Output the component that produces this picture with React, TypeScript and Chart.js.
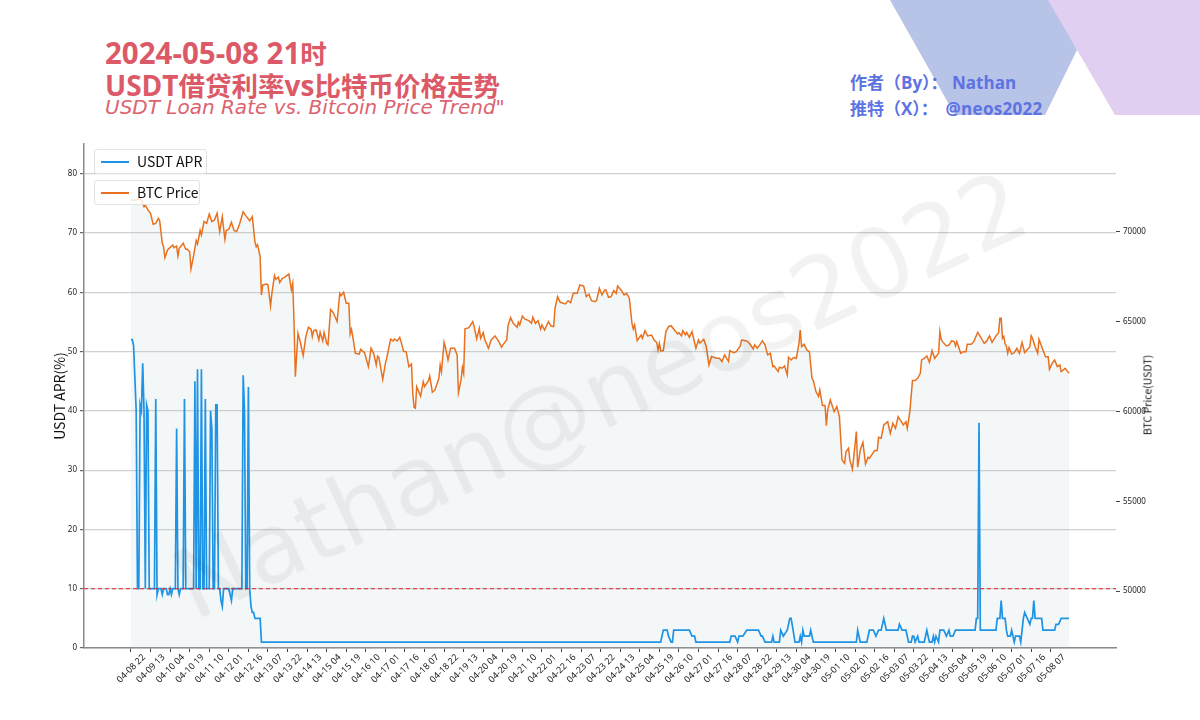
import { useEffect, useRef } from 'react'
import { Chart, registerables } from 'chart.js'

Chart.register(...registerables)

const tickLabels = [
  '04-08 22', '04-09 13', '04-10 04', '04-10 19', '04-11 10', '04-12 01', '04-12 16', '04-13 07',
  '04-13 22', '04-14 13', '04-15 04', '04-15 19', '04-16 10', '04-17 01', '04-17 16', '04-18 07',
  '04-18 22', '04-19 13', '04-20 04', '04-20 19', '04-21 10', '04-22 01', '04-22 16', '04-23 07',
  '04-23 22', '04-24 13', '04-25 04', '04-25 19', '04-26 10', '04-27 01', '04-27 16', '04-28 07',
  '04-28 22', '04-29 13', '04-30 04', '04-30 19', '05-01 10', '05-02 01', '05-02 16', '05-03 07',
  '05-03 22', '05-04 13', '05-05 04', '05-05 19', '05-06 10', '05-07 01', '05-07 16', '05-08 07',
]
const tickStepHours = 15
const aprTicks = [0, 10, 20, 30, 40, 50, 60, 70, 80]
const btcTicks = [50000, 55000, 60000, 65000, 70000]
const aprThreshold = 10

// hours since 04-08 22, only where the line changes direction
const aprHours = [
  0, 1, 2, 4, 5, 6, 7, 8, 9, 10, 11, 12, 13, 14, 18, 19, 20, 21, 23, 24, 25, 27, 28, 29, 30, 31, 32, 34, 35, 36,
  37, 38, 40, 41, 42, 48, 49, 50, 51, 52, 53, 54, 55, 56, 57, 58, 60, 61, 62, 63, 64, 65, 66, 67, 68, 69, 70, 71, 75, 77,
  78, 85, 86, 87, 88, 89, 90, 91, 92, 93, 94, 95, 99, 100, 406, 408, 411, 412, 414, 415, 416, 428, 430, 432, 433, 459, 460, 463, 465, 466,
  469, 472, 481, 483, 484, 486, 491, 492, 493, 497, 498, 500, 503, 505, 506, 509, 512, 513, 514, 515, 516, 520, 521, 523, 556, 557, 559, 564, 566, 569,
  571, 573, 575, 577, 579, 588, 589, 591, 594, 595, 596, 598, 599, 600, 601, 603, 604, 608, 610, 612, 614, 615, 616, 617, 619, 620, 623, 625, 627, 628,
  630, 632, 647, 648, 649, 650, 651, 663, 664, 666, 667, 668, 670, 671, 672, 674, 675, 676, 677, 678, 681, 682, 684, 685, 687, 689, 690, 691, 692, 693,
  698, 699, 708, 709, 711, 713, 719,
]
const aprValues = [
  52, 52, 51, 40, 10, 10, 41, 40, 48, 40, 10, 41, 40, 10, 10, 42, 9, 10, 10, 9, 10, 10, 9, 9, 10, 9, 10, 10, 37, 10,
  9, 10, 10, 42, 10, 10, 45, 10, 47, 10, 10, 47, 10, 10, 42, 10, 10, 40, 37, 10, 10, 41, 41, 10, 10, 8, 7, 10, 10, 8,
  10, 10, 46, 40, 10, 10, 44, 10, 7, 6, 6, 5, 5, 1, 1, 3, 3, 2, 1, 1, 3, 3, 2, 2, 1, 1, 2, 2, 1, 2,
  2, 3, 3, 2, 2, 1, 1, 2, 1, 1, 3, 2, 3, 5, 5, 1, 1, 2, 1, 3, 2, 2, 3, 1, 1, 3, 1, 1, 3, 3,
  2, 3, 3, 5, 3, 3, 4, 3, 3, 2, 1, 1, 2, 2, 1, 2, 1, 1, 3, 1, 1, 2, 1, 2, 1, 3, 3, 2, 3, 2,
  2, 3, 3, 5, 5, 38, 3, 3, 5, 5, 8, 5, 5, 3, 2, 2, 3, 2, 1, 2, 2, 1, 5, 6, 5, 4, 5, 5, 8, 5,
  5, 3, 3, 4, 4, 5, 5,
]

const btcHours = [
  0, 4, 7, 8, 10, 11, 13, 15, 17, 19, 21, 22, 24, 25, 26, 28, 32, 33, 35, 36,
  37, 40, 42, 43, 45, 46, 48, 50, 51, 53, 54, 56, 58, 60, 62, 64, 66, 68, 70, 72,
  73, 75, 77, 79, 81, 83, 86, 88, 91, 93, 95, 96, 97, 99, 100, 101, 104, 105, 107, 108,
  110, 111, 113, 114, 116, 118, 121, 123, 124, 125, 126, 128, 130, 132, 134, 136, 138, 139, 140, 142,
  144, 145, 147, 148, 150, 151, 153, 155, 158, 160, 161, 163, 165, 167, 168, 169, 170, 172, 175, 176,
  179, 182, 184, 186, 188, 189, 190, 193, 195, 196, 199, 201, 202, 204, 206, 207, 209, 211, 213, 215,
  216, 217, 218, 219, 222, 224, 225, 228, 229, 231, 233, 236, 237, 238, 240, 241, 243, 245, 248, 250,
  251, 253, 254, 255, 256, 259, 262, 263, 265, 267, 268, 270, 271, 274, 276, 279, 282, 284, 285, 288,
  289, 291, 293, 296, 297, 298, 300, 302, 305, 307, 308, 310, 312, 314, 315, 317, 320, 322, 324, 325,
  327, 329, 333, 335, 337, 339, 342, 344, 347, 349, 351, 353, 356, 357, 359, 361, 363, 364, 366, 368,
  370, 372, 373, 376, 378, 380, 382, 384, 385, 386, 388, 391, 392, 394, 396, 399, 401, 403, 404, 405,
  406, 408, 410, 412, 414, 417, 419, 420, 422, 423, 425, 426, 428, 430, 433, 435, 436, 439, 441, 443,
  445, 449, 451, 453, 455, 458, 459, 462, 464, 467, 468, 472, 474, 477, 478, 480, 482, 484, 486, 488,
  490, 492, 493, 496, 497, 499, 501, 503, 504, 506, 508, 510, 512, 513, 514, 516, 518, 520, 522, 523,
  525, 527, 528, 530, 532, 533, 534, 536, 539, 541, 543, 545, 547, 548, 550, 551, 553, 556, 557, 559,
  561, 563, 565, 566, 570, 572, 573, 575, 577, 580, 582, 584, 586, 588, 592, 594, 595, 597, 599, 601,
  603, 605, 606, 608, 610, 612, 614, 616, 619, 620, 621, 622, 625, 627, 629, 631, 632, 633, 636, 638,
  640, 641, 644, 646, 649, 651, 654, 656, 658, 660, 663, 665, 666, 667, 668, 669, 670, 671, 672, 673,
  675, 677, 679, 681, 683, 685, 689, 690, 691, 693, 695, 696, 699, 701, 703, 704, 706, 708, 710, 712,
  713, 716, 718, 719,
]
const btcPrices = [
  71780, 71780, 71880, 71780, 71410, 71500, 71230, 71040, 70430, 70480, 70760, 70630, 69370, 69180, 68570, 69000, 69280, 69130, 69220, 68660,
  69090, 69370, 69040, 69050, 68900, 67940, 68680, 69520, 69330, 70080, 69830, 70580, 70480, 71000, 70580, 70670, 71040, 70020, 70850, 69590,
  70080, 70150, 70540, 70080, 70020, 70390, 71130, 70910, 70630, 70850, 69460, 69180, 69280, 68630, 66490, 67050, 67100, 67050, 65880, 66580,
  67570, 67360, 67480, 67180, 67420, 67480, 67660, 66770, 67140, 64910, 61940, 64360, 63800, 63110, 64170, 64690, 64580, 64170, 64500, 64540,
  63980, 64410, 63930, 64410, 63800, 63710, 65690, 65510, 65010, 66580, 66450, 66640, 66030, 66030, 64320, 64580, 64170, 63240, 63190, 63460,
  63280, 62500, 63520, 63240, 62590, 63090, 63020, 61790, 62680, 62960, 64020, 63930, 64040, 63930, 64130, 63890, 63350, 63320, 62500, 62650,
  61010, 60230, 60180, 61380, 60860, 61660, 61380, 61720, 61980, 61070, 61200, 61850, 62590, 62220, 63850, 63580, 62870, 63520, 63520, 63150,
  61050, 61760, 62460, 62130, 64600, 64670, 65010, 64730, 64040, 64630, 64080, 64390, 64040, 63520, 63980, 64210, 63890, 63580, 63710, 63980,
  64780, 65230, 64910, 64690, 64970, 64820, 65320, 65140, 65060, 64910, 65250, 64910, 65060, 64580, 64820, 64540, 65010, 64760, 64730, 65750,
  66400, 66080, 65990, 66170, 66060, 66580, 66580, 67050, 66990, 66400, 66530, 66170, 66120, 66210, 66860, 66490, 66770, 66770, 66360, 66400,
  66730, 66580, 66990, 66730, 66490, 66580, 66300, 64910, 64600, 64820, 63950, 64260, 64080, 64500, 64210, 64260, 63980, 63840, 63430, 63800,
  63390, 63390, 64450, 64730, 64780, 64500, 64320, 64390, 64210, 64500, 64260, 64410, 64130, 64450, 63520, 63980, 63800, 64020, 63610, 62590,
  63060, 62960, 62960, 62780, 63150, 62780, 63390, 63280, 63330, 63650, 63980, 63930, 63800, 63480, 63710, 63520, 63710, 63930, 63710, 63150,
  63240, 62500, 62540, 62220, 62460, 62410, 62540, 62030, 63020, 62870, 63020, 62960, 63800, 64540, 63610, 63740, 63430, 63330, 61850, 61720,
  61110, 60830, 61200, 60330, 60330, 59210, 60080, 60640, 59990, 60270, 59710, 57300, 57110, 57760, 57950, 57300, 56780, 58880, 56890, 57860,
  58280, 57080, 57450, 57390, 57820, 57820, 58560, 58510, 59250, 59430, 58780, 59340, 59060, 59710, 59250, 59430, 59060, 59990, 61720, 61720,
  61850, 62130, 62870, 62960, 63090, 62740, 63390, 62960, 63240, 64450, 64020, 63890, 63650, 63700, 63930, 63890, 63650, 63890, 63240, 63330,
  63330, 63740, 63740, 63890, 64410, 64170, 63800, 63930, 64220, 63850, 64210, 64390, 65190, 65190, 64080, 64170, 63760, 63650, 63240, 63560,
  63200, 63280, 63520, 63240, 63850, 63280, 63610, 64220, 64080, 63610, 63240, 64020, 63430, 63050, 63050, 62350, 62680, 62870, 62500, 62590,
  62220, 62400, 62220, 62130,
]

const uiFont = '"Noto Sans CJK SC", "Noto Sans", sans-serif'
const headFont = '"Open Sans", "Noto Sans CJK SC", sans-serif'
const tickFont = { family: '"Noto Sans", sans-serif', size: 8 }

function LegendBox({ top, width, color, label }: { top: number; width: number; color: string; label: string }) {
  return (
    <div
      style={{
        position: 'absolute', left: 94, top, width, height: 25, boxSizing: 'border-box',
        background: 'rgba(255,255,255,0.8)', border: '1px solid #e2e2e2', borderRadius: 3,
        font: `14px ${uiFont}`, color: '#111', lineHeight: '22px', paddingLeft: 42,
      }}
    >
      <span style={{ position: 'absolute', left: 6, top: 11, width: 28, height: 2, background: color }} />
      {label}
    </div>
  )
}

export default function App() {
  const chartRef = useRef<HTMLCanvasElement>(null)

  useEffect(() => {
    if (!chartRef.current) return

    const chart = new Chart(chartRef.current, {
      type: 'line',
      data: {
        datasets: [
          {
            label: 'threshold',
            data: [{ x: -36, y: aprThreshold }, { x: 755, y: aprThreshold }],
            borderColor: '#e0262c',
            borderWidth: 1,
            borderDash: [4, 3],
            pointRadius: 0,
            yAxisID: 'y',
            order: 0,
          },
          {
            label: 'USDT APR',
            data: aprHours.map((x, i) => ({ x, y: aprValues[i] })),
            borderColor: '#1f93e4',
            borderWidth: 1.7,
            pointRadius: 0,
            tension: 0,
            yAxisID: 'y',
            order: 1,
          },
          {
            label: 'BTC Price',
            data: btcHours.map((x, i) => ({ x, y: btcPrices[i] })),
            borderColor: '#e8711f',
            backgroundColor: 'rgba(170,190,190,0.13)',
            borderWidth: 1.5,
            pointRadius: 0,
            tension: 0,
            fill: 'start',
            yAxisID: 'y1',
            order: 2,
          },
        ],
      },
      options: {
        responsive: false,
        animation: false,
        layout: { padding: { top: 144 } },
        plugins: { legend: { display: false }, tooltip: { enabled: false } },
        scales: {
          x: {
            type: 'linear',
            min: -36,
            max: 755,
            afterBuildTicks: (axis: any) => {
              axis.ticks = tickLabels.map((_, i) => ({ value: i * tickStepHours }))
            },
            afterFit: (axis: any) => { axis.height = 72 },
            grid: { drawOnChartArea: false, tickLength: 4, tickColor: '#444' },
            border: { color: '#8a8a8a', width: 1.5 },
            ticks: {
              autoSkip: false,
              maxRotation: 45,
              minRotation: 45,
              labelOffset: 13,
              padding: 0,
              color: '#222',
              font: { family: '"Noto Sans", sans-serif', size: 9 },
              callback: (_v: any, i: number) => tickLabels[i],
            },
          },
          y: {
            position: 'left',
            min: 0,
            max: 85,
            afterBuildTicks: (axis: any) => {
              axis.ticks = aprTicks.map(value => ({ value }))
            },
            afterFit: (axis: any) => { axis.width = 84 },
            grid: { color: '#d0d0d0', lineWidth: 1.2, tickLength: 4, tickColor: '#666' },
            border: { color: '#8a8a8a', width: 1.5 },
            ticks: { color: '#222', font: tickFont, padding: 3 },
            title: {
              display: true,
              text: 'USDT APR(%)',
              color: '#111',
              font: { family: uiFont, size: 14 },
              padding: { top: 51, bottom: 0 },
            },
          },
          y1: {
            position: 'right',
            min: 46825,
            max: 74900,
            afterBuildTicks: (axis: any) => {
              axis.ticks = btcTicks.map(value => ({ value }))
            },
            afterFit: (axis: any) => { axis.width = 84 },
            grid: { drawOnChartArea: false, tickLength: 4, tickColor: '#444' },
            border: { display: false },
            ticks: {
              color: '#222',
              font: tickFont,
              padding: 3,
              callback: (v: any) => String(v),
            },
          },
        },
      },
    })

    return () => {
      chart.destroy()
    }
  }, [])

  return (
    <div style={{ position: 'fixed', left: 0, top: 0, width: 1200, height: 720, background: '#fff', overflow: 'hidden' }}>
      <svg width={1200} height={720} style={{ position: 'absolute', left: 0, top: 0 }}>
        <polygon points="890,0 1050,0 1077,50 1045,115 955,115" fill="#b8c3e8" />
        <polygon points="1048,0 1200,0 1200,115 1115,115" fill="#e0cff0" />
      </svg>

      <div style={{ position: 'absolute', left: 105, top: 37, color: '#dc5a67', font: `bold 26.5px/31px ${headFont}`, whiteSpace: 'nowrap' }}>
        <span style={{ fontSize: 29.5 }}>2024-05-08 21</span>时
        <br />
        <span style={{ fontSize: 28 }}>USDT</span>借贷利率<span style={{ fontSize: 28 }}>vs</span>比特币价格走势
      </div>
      <div style={{ position: 'absolute', left: 105, top: 95, color: '#dd6270', font: 'italic 20px/24px "DejaVu Sans", sans-serif', whiteSpace: 'nowrap' }}>
        USDT Loan Rate vs. Bitcoin Price Trend"
      </div>
      <div style={{ position: 'absolute', left: 850, top: 70, color: '#5d73e2', font: `bold 17px/26px ${headFont}`, whiteSpace: 'nowrap' }}>
        作者（By）： Nathan
        <br />
        推特（X）：<span style={{ marginLeft: 3, letterSpacing: 0.3 }}> @neos2022</span>
      </div>

      <canvas ref={chartRef} width={1200} height={720} style={{ position: 'absolute', left: 0, top: 0 }} />

      <LegendBox top={149} width={113} color="#1f93e4" label="USDT APR" />
      <LegendBox top={180} width={106} color="#e8711f" label="BTC Price" />

      <div
        style={{
          position: 'absolute', left: 1147, top: 395, transform: 'translate(-50%, -50%) rotate(-90deg)',
          font: `10.5px ${uiFont}`, color: '#111', whiteSpace: 'nowrap',
        }}
      >
        BTC Price(USDT)
      </div>

      <div
        style={{
          position: 'absolute', left: 600, top: 395, transform: 'translate(-50%, -50%) rotate(-25deg)',
          font: '97px "DejaVu Sans", sans-serif', color: 'rgba(0,0,0,0.05)', whiteSpace: 'nowrap', pointerEvents: 'none',
        }}
      >
        Nathan@neos2022
      </div>
    </div>
  )
}
